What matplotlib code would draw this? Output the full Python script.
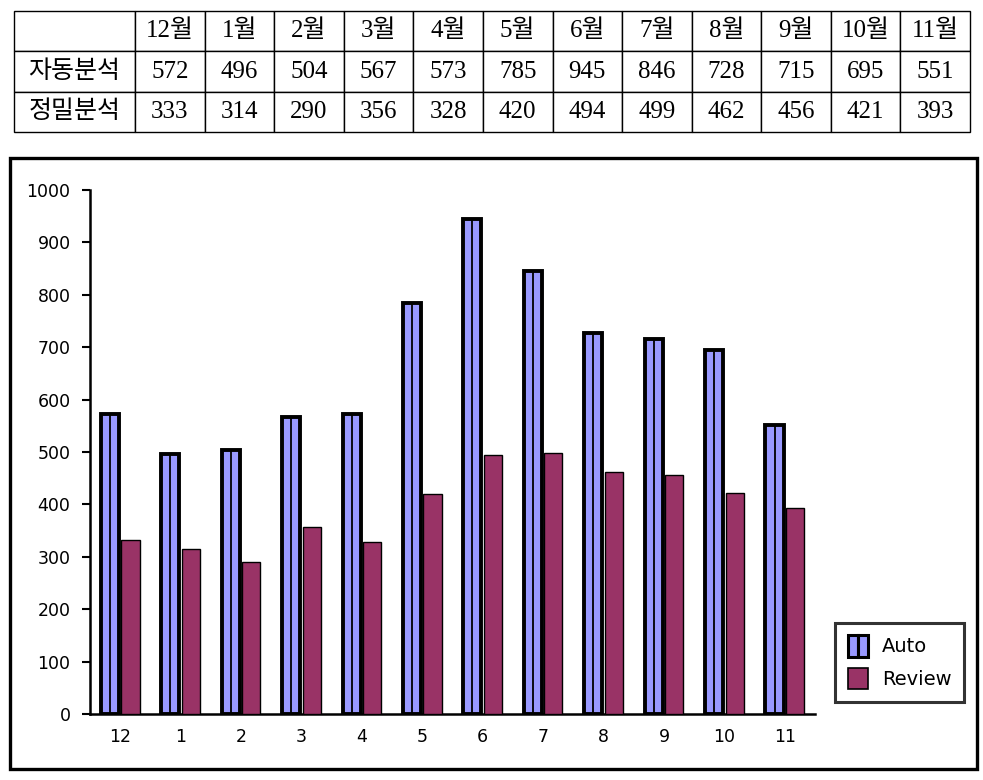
import numpy as np
import matplotlib.pyplot as plt
from matplotlib.patches import Patch, Rectangle
from matplotlib.legend_handler import HandlerTuple

months = ['12', '1', '2', '3', '4', '5', '6', '7', '8', '9', '10', '11']
auto = [572, 496, 504, 567, 573, 785, 945, 846, 728, 715, 695, 551]
review = [333, 314, 290, 356, 328, 420, 494, 499, 462, 456, 421, 393]
row_names = ['자동분석', '정밀분석']

blue = '#9999ff'
maroon = '#993366'

fig = plt.figure(figsize=(9.83, 7.8), dpi=100)

# table at top
tab_ax = fig.add_axes([14/983, 1-132/780, 956/983, 121/780])
tab_ax.axis('off')
cells = [[''] + [m + '월' for m in months],
         [row_names[0]] + [str(v) for v in auto],
         [row_names[1]] + [str(v) for v in review]]
first_w = 121/956
other_w = (1 - first_w) / 12
tbl = tab_ax.table(cellText=cells, cellLoc='center', bbox=[0, 0, 1, 1],
                   colWidths=[first_w] + [other_w]*12)
tbl.auto_set_font_size(False)
tbl.set_fontsize(18)
for (r, c), cell in tbl.get_celld().items():
    cell.set_linewidth(1.0)
    cell.set_edgecolor('black')
    cell.get_text().set_family(['Liberation Serif', 'Noto Sans CJK KR'])

# border around the chart
fig.patches.append(Rectangle((10/983, 1-769/780), 967/983, 611/780,
                             transform=fig.transFigure, fill=False,
                             edgecolor='black', linewidth=2.4))

ax = fig.add_axes([90/983, 1-714/780, 725/983, 524/780])
x = np.arange(len(months))
off = 0.17
bw = 0.3

ax.bar(x - off, auto, width=bw, color=blue, edgecolor='black', linewidth=2.8, zorder=3)
# inner divider gives the two-column look
ax.bar(x - off - bw/4, auto, width=bw/2, fill=False, edgecolor='black', linewidth=1.3, zorder=4)
ax.bar(x + off, review, width=bw, color=maroon, edgecolor='black', linewidth=1.0, zorder=3)

ax.set_xlim(-0.5, len(months) - 0.5)
ax.set_ylim(0, 1000)
ax.set_yticks(range(0, 1001, 100))
ax.set_xticks(x)
ax.set_xticklabels(months)
ax.tick_params(axis='x', length=0, pad=10, labelsize=12.5)
ax.tick_params(axis='y', length=6, width=1.5, direction='out', pad=8, labelsize=12.5)
for s in ['top', 'right']:
    ax.spines[s].set_visible(False)
for s in ['left', 'bottom']:
    ax.spines[s].set_linewidth(1.8)

h_auto = (Patch(facecolor=blue, edgecolor='black', linewidth=2.2),
          Patch(facecolor=blue, edgecolor='black', linewidth=2.2))
h_rev = Patch(facecolor=maroon, edgecolor='black', linewidth=1.2)
leg = fig.legend([h_auto, h_rev], ['Auto', 'Review'],
                 handler_map={tuple: HandlerTuple(ndivide=None, pad=0)},
                 loc='lower left', bbox_to_anchor=(835/983, 1-702/780),
                 fontsize=14, frameon=True, fancybox=False,
                 handlelength=1.05, handleheight=1.3, handletextpad=0.7,
                 borderpad=0.65, labelspacing=0.6, borderaxespad=0)
leg.get_frame().set_edgecolor('black')
leg.get_frame().set_linewidth(2.2)

fig.savefig('out.png', dpi=100)
